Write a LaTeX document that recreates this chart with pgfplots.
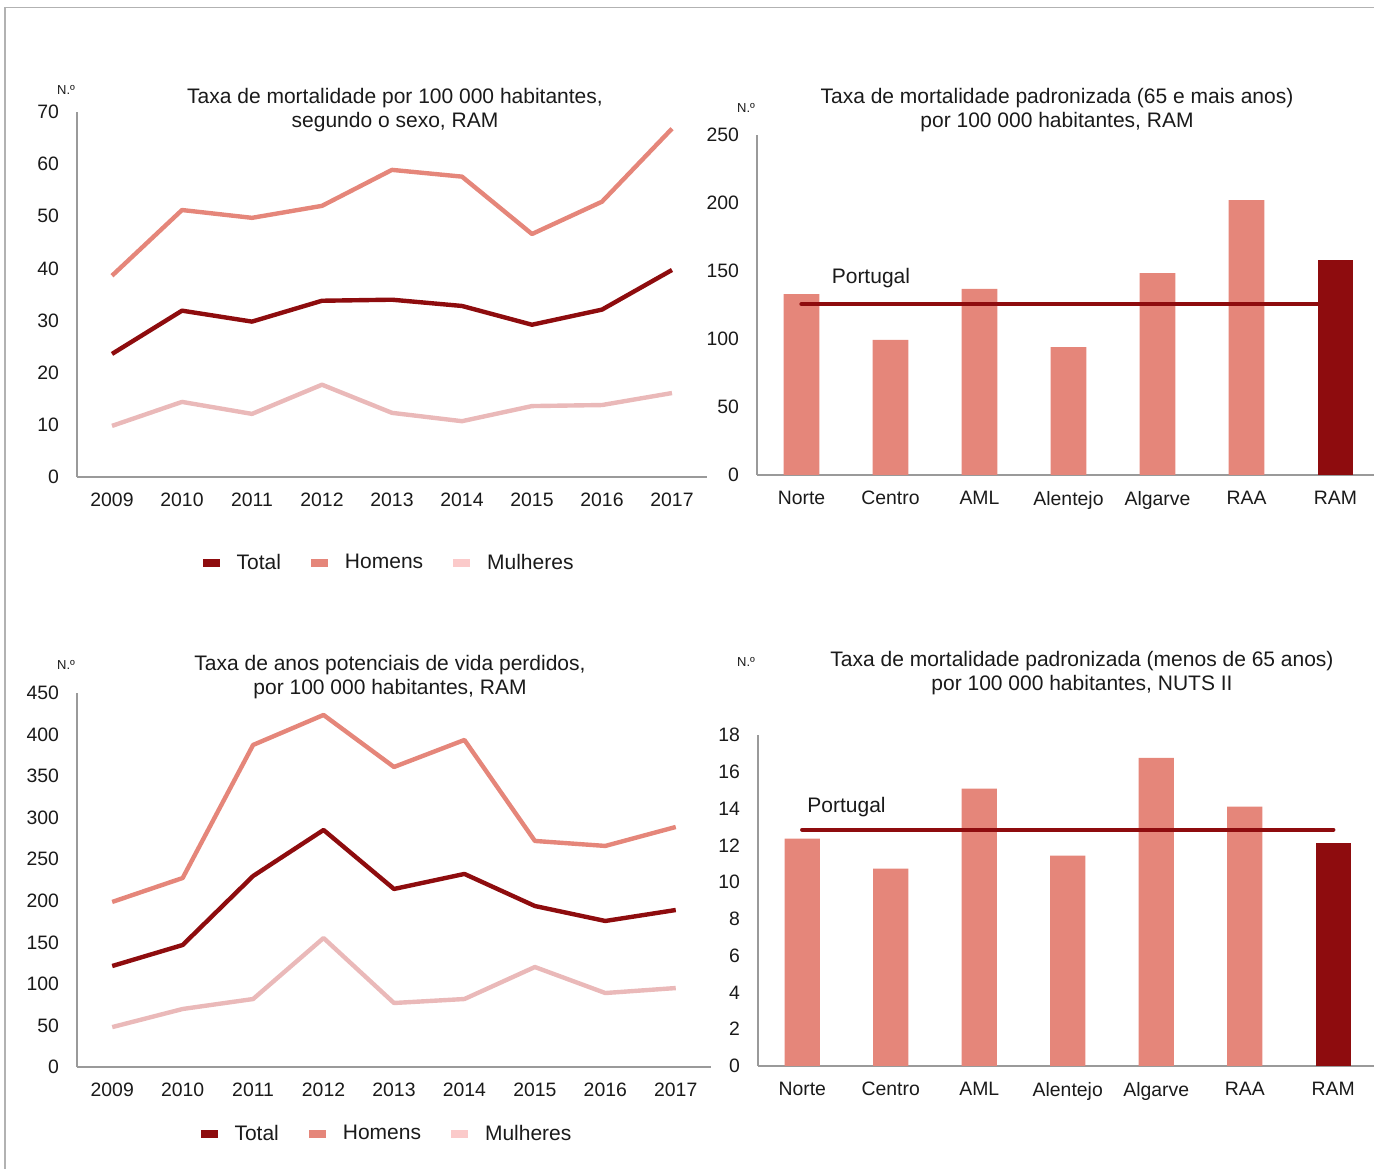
\documentclass[border=0pt]{standalone}
\usepackage{fontspec}
\setmainfont{Liberation Sans}
\usepackage{pgfplots}
\pgfplotsset{compat=1.18}
\definecolor{ctot}{HTML}{8E0C0E}
\definecolor{chom}{HTML}{E5867A}
\definecolor{cmul}{HTML}{EAB9B9}
\definecolor{cmulleg}{HTML}{FBCACA}
\definecolor{caxis}{HTML}{9A9A9A}
\definecolor{ctext}{HTML}{1A1A1A}
\pgfplotsset{
  panel/.style={
    scale only axis, anchor=south west,
    axis x line=bottom, axis y line=left,
    axis line style={caxis, line width=1bp, -},
    major tick length=0pt,
    tick label style={font=\fontsize{9.7bp}{11bp}\selectfont, text=ctext, inner sep=0pt},
    /pgf/number format/assume math mode=true,
    /pgf/number format/1000 sep={},
    xticklabel shift=8bp, yticklabel shift=8.8bp,
    ymin=0, clip=false,
  },
  lineseries/.style={panel, xmin=2008.5, xmax=2017.5, xtick={2009,2010,...,2017},
    legend style={draw=none, fill=none, anchor=center, legend columns=3,
      font=\fontsize{10.5bp}{12bp}\selectfont, text=ctext,
      /tikz/every odd column/.append style={column sep=6.5bp},
      /tikz/every even column/.append style={column sep=13bp}},
    legend image code/.code={\fill[##1] (0bp,-2bp) rectangle (8.5bp,2bp);},
  },
  barseries/.style={panel, xmin=-0.5, xmax=6.5, xtick={0,...,6},
    xticklabels={Norte,Centro,AML,Alentejo,Algarve,RAA,RAM}},
  ln/.style={line width=2.2bp, line join=round},
}
\begin{document}
\begin{tikzpicture}
\useasboundingbox (0,0) rectangle (687bp,584.5bp);
\draw[color=black!30, line width=0.8bp] (2.5bp,0) -- (2.5bp,580.8bp) -- (690bp,580.8bp);

% ---------- Panel 1 ----------
\begin{axis}[lineseries, at={(38.5bp,346bp)}, width=315bp, height=182.5bp,
  ymax=70, ytick={0,10,...,70}, legend style={at={(0.497,-0.2356)}}]
\addplot[ln, chom, forget plot] coordinates {(2009,38.6) (2010,51.2) (2011,49.7) (2012,52.0) (2013,58.9) (2014,57.6) (2015,46.6) (2016,52.8) (2017,66.8)};
\addplot[ln, ctot, forget plot] coordinates {(2009,23.6) (2010,31.9) (2011,29.8) (2012,33.8) (2013,34.0) (2014,32.8) (2015,29.2) (2016,32.1) (2017,39.7)};
\addplot[ln, cmul, forget plot] coordinates {(2009,9.8) (2010,14.4) (2011,12.1) (2012,17.7) (2013,12.3) (2014,10.7) (2015,13.6) (2016,13.8) (2017,16.1)};
\addlegendimage{fill=ctot, draw=none}\addlegendentry{Total}
\addlegendimage{fill=chom, draw=none}\addlegendentry{Homens}
\addlegendimage{fill=cmulleg, draw=none}\addlegendentry{Mulheres}
\end{axis}

% ---------- Panel 2 ----------
\begin{axis}[barseries, at={(378.5bp,347bp)}, width=311.5bp, height=170bp,
  ymax=250, ytick={0,50,...,250}]
\addplot[ybar, bar width=17.8bp, bar shift=0pt, fill=chom, draw=none] coordinates {(0,133.0) (1,99.3) (2,136.8) (3,94.1) (4,148.5) (5,202.2)};
\addplot[ybar, bar width=17.8bp, bar shift=0pt, fill=ctot, draw=none] coordinates {(6,158.1)};
\addplot[ctot, line width=2.2bp, line cap=round] coordinates {(0,125.7) (6,125.7)};
\node[font=\fontsize{10.5bp}{12bp}\selectfont, text=ctext] at (axis cs:0.78,145) {Portugal};
\end{axis}

% ---------- Panel 3 ----------
\begin{axis}[lineseries, at={(38.5bp,51bp)}, width=317bp, height=187bp,
  ymax=450, ytick={0,50,...,450}, legend style={at={(0.4905,-0.179)}}]
\addplot[ln, chom, forget plot] coordinates {(2009,198.6) (2010,227.4) (2011,387.5) (2012,423.6) (2013,361) (2014,393.5) (2015,272) (2016,266) (2017,288.8)};
\addplot[ln, ctot, forget plot] coordinates {(2009,121.5) (2010,146.8) (2011,229.8) (2012,285.2) (2013,214.2) (2014,232.3) (2015,193.7) (2016,175.7) (2017,188.9)};
\addplot[ln, cmul, forget plot] coordinates {(2009,48) (2010,69.8) (2011,81.8) (2012,155.2) (2013,77) (2014,81.8) (2015,120.3) (2016,89) (2017,95)};
\addlegendimage{fill=ctot, draw=none}\addlegendentry{Total}
\addlegendimage{fill=chom, draw=none}\addlegendentry{Homens}
\addlegendimage{fill=cmulleg, draw=none}\addlegendentry{Mulheres}
\end{axis}

% ---------- Panel 4 ----------
\begin{axis}[barseries, at={(379bp,51.5bp)}, width=309.75bp, height=165.5bp,
  ymax=18, ytick={0,2,...,18}]
\addplot[ybar, bar width=17.6bp, bar shift=0pt, fill=chom, draw=none] coordinates {(0,12.36) (1,10.74) (2,15.08) (3,11.44) (4,16.76) (5,14.1)};
\addplot[ybar, bar width=17.6bp, bar shift=0pt, fill=ctot, draw=none] coordinates {(6,12.15)};
\addplot[ctot, line width=2.2bp, line cap=round] coordinates {(0,12.85) (6,12.85)};
\node[font=\fontsize{10.5bp}{12bp}\selectfont, text=ctext] at (axis cs:0.5,14.1) {Portugal};
\end{axis}

% ---------- Titles ----------
\begin{scope}[every node/.style={align=center, text=ctext, font=\fontsize{10.5bp}{12bp}\selectfont}]
\node at (197.5bp,529.5bp) {Taxa de mortalidade por 100 000 habitantes,\\segundo o sexo, RAM};
\node at (528.5bp,529.5bp) {Taxa de mortalidade padronizada (65 e mais anos)\\por 100 000 habitantes, RAM};
\node at (195bp,246bp) {Taxa de anos potenciais de vida perdidos,\\por 100 000 habitantes, RAM};
\node at (541bp,248bp) {Taxa de mortalidade padronizada (menos de 65 anos)\\por 100 000 habitantes, NUTS II};
\end{scope}
\begin{scope}[every node/.style={text=ctext, font=\fontsize{6.5bp}{8bp}\selectfont}]
\node at (33bp,539.5bp) {N.º};
\node at (373bp,530.5bp) {N.º};
\node at (33bp,252bp) {N.º};
\node at (373bp,253.5bp) {N.º};
\end{scope}
\end{tikzpicture}
\end{document}
